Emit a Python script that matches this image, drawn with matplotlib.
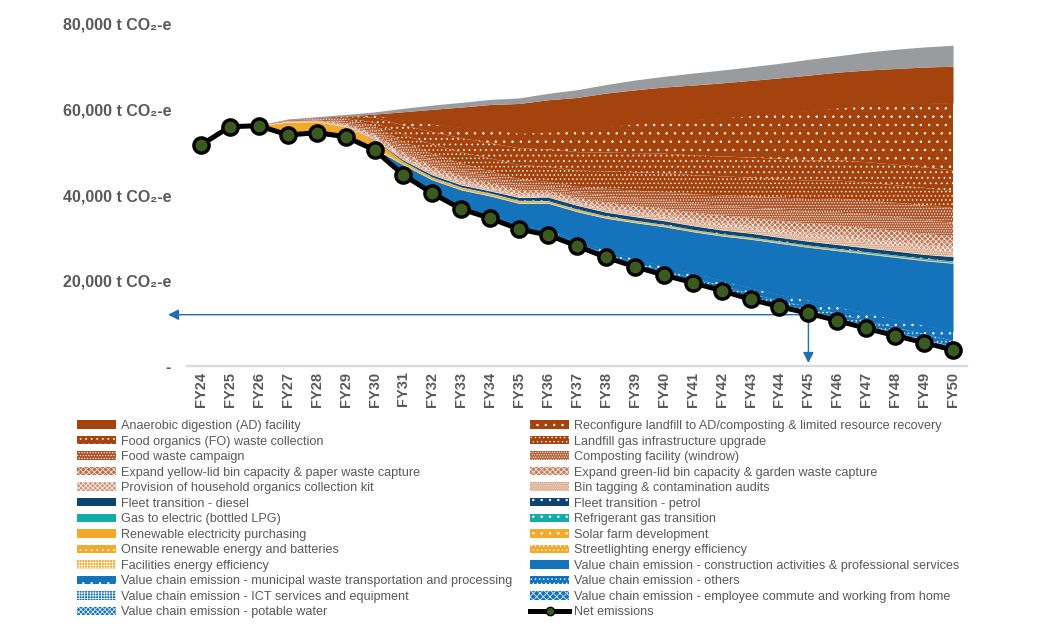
import matplotlib
matplotlib.use("Agg")
import matplotlib.pyplot as plt
from matplotlib.patches import Patch
from matplotlib.lines import Line2D
import numpy as np

plt.rcParams['font.family'] = ['Liberation Sans', 'DejaVu Sans']
plt.rcParams['hatch.linewidth'] = 0.5

# ---------------- data ----------------
years = ['FY24', 'FY25', 'FY26', 'FY27', 'FY28', 'FY29', 'FY30', 'FY31', 'FY32', 'FY33',
         'FY34', 'FY35', 'FY36', 'FY37', 'FY38', 'FY39', 'FY40', 'FY41', 'FY42', 'FY43',
         'FY44', 'FY45', 'FY46', 'FY47', 'FY48', 'FY49', 'FY50']

net_emissions = [51700, 55970, 56210, 54030, 54570, 53640, 50520, 44680, 40390, 36720,
                 34540, 32000, 30640, 28070, 25420, 23230, 21280, 19490, 17620, 15590,
                 13880, 12320, 10600, 8810, 7090, 5460, 3740]

# value chain
vc_water = [0, 0, 0, 0, 0, 0, 0, 10, 15, 20, 30, 30, 35, 40, 50, 55, 60, 65, 70, 80, 85, 95, 100, 110, 115, 125, 130]
vc_employee = [0, 0, 0, 0, 0, 0, 0, 20, 35, 50, 60, 70, 85, 100, 110, 125, 140, 155, 170, 180, 195, 215, 230, 250, 265, 285, 300]
vc_ict = [0, 0, 0, 0, 0, 0, 0, 30, 50, 70, 90, 100, 120, 140, 160, 180, 200, 220, 240, 260, 280, 300, 330, 350, 380, 400, 430]
vc_others = [0, 0, 0, 0, 0, 0, 0, 90, 150, 210, 270, 300, 360, 420, 480, 540, 600, 660, 720, 780, 840, 920, 990, 1070, 1140, 1220, 1280]
vc_municipal = [0, 0, 0, 0, 0, 0, 0, 150, 250, 350, 450, 500, 600, 700, 800, 900, 1000, 1100, 1200, 1300, 1400, 1520, 1650, 1770, 1900, 2020, 2140]
vc_construction = [0, 0, 0, 0, 0, 0, 300, 2030, 2620, 3750, 4320, 5030, 6220, 6620, 7530, 8490, 9300, 9720, 10390, 11450, 12020, 12390, 13070, 13840, 14530, 15120, 16000]

# energy
facilities_ee = [0, 0, 0, 200, 170, 170, 150, 50, 40, 40, 40, 40, 35, 35, 35, 30, 30, 30, 30, 25, 25, 20, 15, 15, 13, 13, 10]
streetlighting = [0, 0, 0, 250, 230, 220, 210, 70, 50, 50, 50, 50, 45, 45, 40, 40, 40, 35, 35, 35, 30, 30, 30, 25, 22, 22, 20]
onsite_renewable = [0, 0, 0, 250, 220, 200, 180, 80, 60, 60, 60, 60, 50, 50, 45, 40, 40, 35, 35, 30, 30, 30, 25, 25, 25, 20, 20]
solar_farm = [0, 0, 0, 0, 0, 0, 0, 100, 100, 100, 100, 100, 90, 100, 80, 80, 70, 70, 60, 60, 55, 50, 50, 45, 40, 35, 30]
renewable_purchase = [0, 0, 0, 2300, 1950, 1750, 1500, 400, 300, 300, 300, 300, 230, 250, 200, 190, 180, 170, 160, 150, 140, 130, 120, 110, 100, 90, 80]
refrigerant = [0, 0, 0, 0, 0, 0, 0, 30, 30, 30, 30, 30, 30, 30, 40, 40, 45, 50, 50, 60, 65, 70, 80, 90, 95, 105, 110]
gas_to_electric = [0, 0, 0, 0, 0, 0, 0, 50, 50, 50, 50, 50, 50, 50, 60, 60, 65, 70, 80, 90, 95, 110, 120, 130, 145, 155, 170]
fleet_petrol = [0, 0, 0, 0, 0, 0, 30, 100, 160, 160, 160, 220, 270, 275, 275, 280, 280, 285, 285, 290, 290, 295, 300, 300, 305, 310, 330]
fleet_diesel = [0, 0, 0, 0, 0, 0, 70, 230, 370, 380, 380, 530, 630, 645, 645, 650, 650, 655, 660, 665, 670, 680, 690, 700, 705, 720, 770]

# waste
bin_tagging = [0, 0, 0, 60, 80, 190, 320, 440, 500, 500, 460, 430, 360, 440, 550, 610, 670, 740, 810, 860, 930, 990, 1070, 1110, 1130, 1150, 1140]
organics_kit = [0, 0, 0, 50, 80, 190, 320, 430, 500, 510, 460, 430, 360, 430, 540, 600, 670, 740, 810, 860, 930, 990, 1070, 1100, 1130, 1150, 1130]
green_lid = [0, 0, 0, 50, 80, 180, 310, 440, 490, 500, 470, 430, 350, 440, 550, 610, 680, 740, 820, 860, 940, 990, 1080, 1110, 1140, 1160, 1150]
yellow_lid = [0, 0, 0, 70, 90, 230, 380, 520, 600, 600, 560, 520, 430, 520, 660, 730, 810, 890, 970, 1030, 1120, 1180, 1290, 1330, 1360, 1380, 1360]
composting = [0, 0, 0, 150, 220, 530, 890, 1220, 1390, 1410, 1300, 1200, 1010, 1220, 1530, 1690, 1880, 2070, 2270, 2410, 2610, 2760, 3000, 3090, 3170, 3230, 3180]
food_waste_campaign = [0, 0, 0, 160, 230, 560, 950, 1310, 1490, 1510, 1390, 1290, 1080, 1310, 1640, 1820, 2020, 2220, 2440, 2590, 2800, 2960, 3220, 3320, 3390, 3460, 3410]
landfill_gas = [0, 0, 0, 0, 0, 200, 800, 1600, 2200, 2600, 3000, 3300, 3500, 3800, 4100, 4300, 4400, 4450, 4450, 4400, 4350, 4300, 4250, 4200, 4100, 4050, 4000]
fo_collection = [0, 0, 0, 0, 100, 400, 1200, 2200, 2900, 3300, 3600, 3900, 4100, 4300, 4400, 4500, 4550, 4600, 4650, 4700, 4720, 4740, 4760, 4780, 4800, 4800, 4800]
reconfigure_landfill = [0, 0, 0, 0, 0, 0, 500, 1200, 1800, 2500, 3000, 3500, 4000, 5000, 6000, 6800, 7500, 8300, 9000, 9800, 10600, 11600, 12200, 13100, 14000, 14900, 15800]
ad_facility = [0, 0, 0, 0, 0, 0, 300, 2000, 3500, 4800, 6000, 7000, 7600, 7800, 7900, 8000, 8100, 8150, 8200, 8250, 8300, 8350, 8400, 8450, 8500, 8550, 8600]
unlabelled_grey = [0, 0, 0, 200, 300, 400, 500, 800, 1000, 1100, 1200, 1300, 1500, 1800, 2000, 2300, 2500, 2800, 3000, 3200, 3400, 3700, 3800, 4200, 4500, 4700, 4900]

target_value = 12000
target_year = 'FY45'

# ---------------- styles ----------------
BROWN = '#A4430E'
DKBLUE = '#0E4470'
TEAL = '#14ABA8'
YELLOW = '#F2AA2A'
BLUE = '#1473BA'
GREY = '#9A9B9F'
TXT = '#595959'

# bottom -> top stacking order
layers = [
    ('Value chain emission - potable water', vc_water, BLUE, 'xxxxxxx'),
    ('Value chain emission - employee commute and working from home', vc_employee, BLUE, 'xxxxx'),
    ('Value chain emission - ICT services and equipment', vc_ict, BLUE, '++++++'),
    ('Value chain emission - others', vc_others, BLUE, '....'),
    ('Value chain emission - municipal waste transportation and processing', vc_municipal, BLUE, '..'),
    ('Value chain emission - construction activities & professional services', vc_construction, BLUE, None),
    ('Facilities energy efficiency', facilities_ee, YELLOW, '++++++'),
    ('Streetlighting energy efficiency', streetlighting, YELLOW, '....'),
    ('Onsite renewable energy and batteries', onsite_renewable, YELLOW, '...'),
    ('Solar farm development', solar_farm, YELLOW, '..'),
    ('Renewable electricity purchasing', renewable_purchase, YELLOW, None),
    ('Refrigerant gas transition', refrigerant, TEAL, '..'),
    ('Gas to electric (bottled LPG)', gas_to_electric, TEAL, None),
    ('Fleet transition - petrol', fleet_petrol, DKBLUE, '..'),
    ('Fleet transition - diesel', fleet_diesel, DKBLUE, None),
    ('Bin tagging & contamination audits', bin_tagging, '#D8A585', '.........'),
    ('Provision of household organics collection kit', organics_kit, '#D09274', 'xxxxxxx'),
    ('Expand green-lid bin capacity & garden waste capture', green_lid, '#C57D5B', 'xxxxxx'),
    ('Expand yellow-lid bin capacity & paper waste capture', yellow_lid, '#BC6C47', 'xxxxxx'),
    ('Composting facility (windrow)', composting, '#B35E35', '.......'),
    ('Food waste campaign', food_waste_campaign, '#AD5227', '......'),
    ('Landfill gas infrastructure upgrade', landfill_gas, BROWN, '....'),
    ('Food organics (FO) waste collection', fo_collection, BROWN, '...'),
    ('Reconfigure landfill to AD/composting & limited resource recovery', reconfigure_landfill, BROWN, '..'),
    ('Anaerobic digestion (AD) facility', ad_facility, BROWN, None),
    (None, unlabelled_grey, GREY, None),
]

# ---------------- figure ----------------
W, H = 1041, 631
fig = plt.figure(figsize=(W / 100, H / 100), dpi=100)
ax = fig.add_axes([186.5 / W, (H - 366) / H, 781 / W, 342 / H])

x = np.arange(len(years))
base = np.array(net_emissions, dtype=float)
handles = {}
for label, vals, col, hatch in layers:
    top = base + np.array(vals, dtype=float)
    ax.fill_between(x, base, top, facecolor=col, edgecolor='white' if hatch else col,
                    hatch=hatch, linewidth=0, zorder=2)
    if label:
        handles[label] = Patch(facecolor=col, edgecolor='white' if hatch else col,
                               hatch=hatch, linewidth=0)
    base = top

ax.plot(x, net_emissions, color='black', lw=3.6, marker='o', markersize=11,
        markerfacecolor='#3B5A1F', markeredgecolor='black', markeredgewidth=2.4,
        zorder=5, clip_on=False)

# target arrows
ARROW = '#1F6FB2'
ti = years.index(target_year)
ax.annotate('', xy=(168 / W, target_value), xycoords=('figure fraction', 'data'),
            xytext=(ti, target_value), textcoords='data',
            arrowprops=dict(arrowstyle='-|>', color=ARROW, lw=1.0, mutation_scale=16,
                            shrinkA=0, shrinkB=0), annotation_clip=False, zorder=4)
ax.annotate('', xy=(ti, 700), xytext=(ti, target_value),
            arrowprops=dict(arrowstyle='-|>', color=ARROW, lw=1.0, mutation_scale=16,
                            shrinkA=0, shrinkB=0), annotation_clip=False, zorder=4)

# axes
ax.set_xlim(-0.5, len(years) - 0.5)
ax.set_ylim(0, 80000)
for s in ['top', 'right', 'left']:
    ax.spines[s].set_visible(False)
ax.spines['bottom'].set_color('#D9D9D9')
ax.spines['bottom'].set_linewidth(1.6)
ax.spines['bottom'].set_zorder(1)

yt = [0, 20000, 40000, 60000, 80000]
ylabels = ['-'] + [f'{v:,} t CO\u2082-e' for v in yt[1:]]
ax.set_yticks(yt)
ax.set_yticklabels(ylabels, fontsize=11.5, fontweight='bold', color=TXT)
ax.tick_params(axis='y', length=0, pad=11)
ax.set_xticks(x)
ax.set_xticklabels(years, rotation=90, fontsize=10.5, fontweight='bold', color=TXT)
ax.tick_params(axis='x', length=0, pad=4)

# legends
left_order = ['Anaerobic digestion (AD) facility', 'Food organics (FO) waste collection',
              'Food waste campaign', 'Expand yellow-lid bin capacity & paper waste capture',
              'Provision of household organics collection kit', 'Fleet transition - diesel',
              'Gas to electric (bottled LPG)', 'Renewable electricity purchasing',
              'Onsite renewable energy and batteries', 'Facilities energy efficiency',
              'Value chain emission - municipal waste transportation and processing',
              'Value chain emission - ICT services and equipment',
              'Value chain emission - potable water']
right_order = ['Reconfigure landfill to AD/composting & limited resource recovery',
               'Landfill gas infrastructure upgrade', 'Composting facility (windrow)',
               'Expand green-lid bin capacity & garden waste capture',
               'Bin tagging & contamination audits', 'Fleet transition - petrol',
               'Refrigerant gas transition', 'Solar farm development',
               'Streetlighting energy efficiency',
               'Value chain emission - construction activities & professional services',
               'Value chain emission - others',
               'Value chain emission - employee commute and working from home']

net_handle = Line2D([], [], color='black', lw=3.6, marker='o', markersize=6,
                    markerfacecolor='#3B5A1F', markeredgecolor='black')

leg_kw = dict(frameon=False, fontsize=9.1, labelcolor=TXT, borderpad=0, borderaxespad=0,
              handlelength=3.1, handleheight=0.65, handletextpad=0.35, labelspacing=0.28,
              loc='upper left')
leg1 = fig.legend([handles[k] for k in left_order], left_order,
                  bbox_to_anchor=(77 / W, (H - 420) / H), **leg_kw)
leg2 = fig.legend([handles[k] for k in right_order] + [net_handle],
                  right_order + ['Net emissions'],
                  bbox_to_anchor=(530 / W, (H - 420) / H), **leg_kw)

fig.savefig('out.png', dpi=100)
